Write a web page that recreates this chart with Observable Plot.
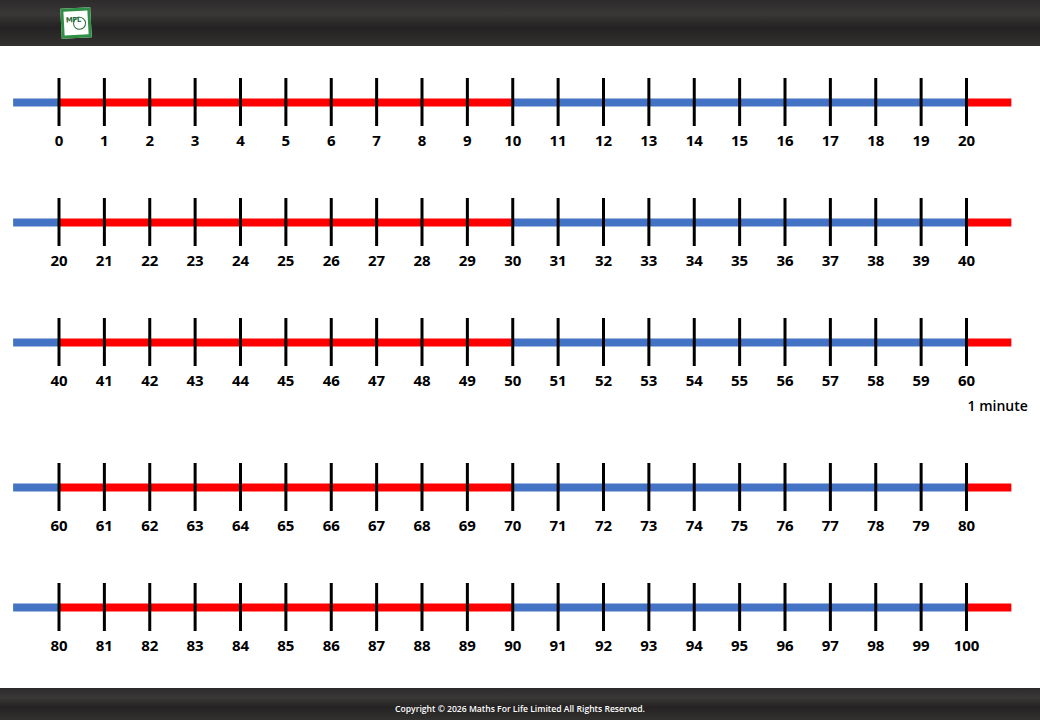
<!DOCTYPE html>
<html><head><meta charset="utf-8">
<script src="https://cdn.jsdelivr.net/npm/d3@7"></script>
<script src="https://cdn.jsdelivr.net/npm/@observablehq/plot@0.6"></script>
<style>
html,body{margin:0;padding:0;background:#fff;width:1040px;height:720px;overflow:hidden;position:relative}
.bar{position:absolute;left:0;width:1040px;background:linear-gradient(180deg,#2c2a2a 0%,#3a3737 30%,#242222 60%,#333030 100%)}
.top{top:0;height:46px}
.bottom{top:688px;height:32px;color:#fff;font-family:"Open Sans",sans-serif;font-weight:600;font-size:8.6px;text-align:center;line-height:42px}
.logo{position:absolute;left:61px;top:8px;width:24px;height:24px;border:3px solid #2f8f45;background:#fff;transform:rotate(-3deg);box-sizing:content-box}
.logo span{position:absolute;left:2px;top:5px;font:bold 7px "DejaVu Sans",sans-serif;color:#2a6a3a;letter-spacing:-0.3px}
.logo i{position:absolute;left:9px;top:6px;width:11px;height:11px;border:1px solid #2a6a3a;border-radius:50%}
#chart{position:absolute;top:46px;left:0}
</style></head>
<body>
<div class="bar top"><div class="logo"><span>MFL</span><i></i></div></div>
<div id="chart"></div>
<div class="bar bottom">Copyright © 2026 Maths For Life Limited All Rights Reserved.</div>
<script>
// Number line rows (start value of each line)
const rowStarts = [0, 20, 40, 60, 80];
// Tick steps along each line
const steps = [0,1,2,3,4,5,6,7,8,9,10,11,12,13,14,15,16,17,18,19,20];
// Coloured segments of each line
const segFrom = [-1, 0, 10, 20];
const segTo   = [0, 10, 20, 21];
const segKind = ["lead", "first ten", "second ten", "trail"];
// Extra note
const noteText = "1 minute";
const noteRow = 2;
const noteStep = 20;

const rows = rowStarts.map((s, i) => ({start: s, row: i}));
const segs = rows.flatMap(r => segFrom.map((f, j) => ({row: r.row, x1: f, x2: segTo[j], kind: segKind[j]})));
const ticks = rows.flatMap(r => steps.map(s => ({row: r.row, step: s, label: String(r.start + s)})));

const gap = 0.2083;
const yPos = d => d.row + (d.row >= 3 ? gap : 0);

const chart = Plot.plot({
  width: 1040,
  height: 642,
  margin: 0,
  style: {fontFamily: "'Open Sans', sans-serif", background: "transparent", overflow: "visible"},
  x: {domain: [0, 20], range: [58.5, 966], axis: null},
  y: {domain: [0, 4 + gap], range: [56, 561], axis: null},
  color: {domain: ["lead", "first ten", "second ten", "trail"], range: ["#4472c4", "#ff0000", "#4472c4", "#ff0000"]},
  marks: [
    Plot.ruleY(segs, {x1: "x1", x2: "x2", y: yPos, stroke: "kind", strokeWidth: 8}),
    Plot.ruleX(ticks, {x: "step", y1: d => yPos(d) - 0.2, y2: d => yPos(d) + 0.2, stroke: "black", strokeWidth: 3}),
    Plot.text(ticks, {x: "step", y: yPos, dy: 39, text: "label", fontSize: 15, fontWeight: "bold", fill: "black"}),
    Plot.text([{row: noteRow, step: noteStep, t: noteText}], {x: "step", y: yPos, dy: 64, dx: 1, text: "t", textAnchor: "start", fontSize: 14, fontWeight: 600, fill: "black"})
  ]
});
document.getElementById("chart").appendChild(chart);
</script>
</body></html>
